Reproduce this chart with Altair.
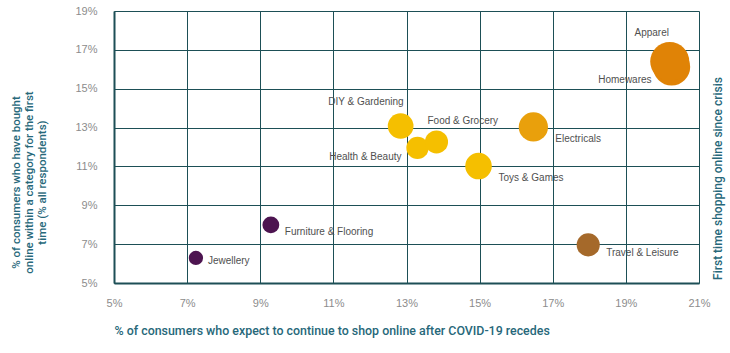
import altair as alt
import pandas as pd

categories = ["Jewellery", "Furniture & Flooring", "Travel & Leisure", "DIY & Gardening",
              "Health & Beauty", "Food & Grocery", "Toys & Games", "Electricals",
              "Homewares", "Apparel"]
expect_continue = [7.24, 9.29, 17.97, 12.84, 13.30, 13.82, 14.97, 16.47, 20.25, 20.20]
first_time = [6.29, 7.99, 6.96, 13.08, 11.95, 12.26, 11.02, 13.03, 16.12, 16.40]
bubble_size = [2.6, 3.6, 6.8, 8.4, 6.3, 6.8, 9.0, 10.9, 17.6, 19.4]
x_ticks = [5, 7, 9, 11, 13, 15, 17, 19, 21]
y_ticks = [5, 7, 9, 11, 13, 15, 17, 19]

colors = ["#4d1450", "#4d1450", "#a5692a", "#f5bf00", "#f5bf00", "#f5bf00",
          "#f5bf00", "#e9a00c", "#e08306", "#e08306"]

df = pd.DataFrame({"cat": categories, "x": expect_continue, "y": first_time,
                   "s": bubble_size})

TEAL = "#1d4f56"
TITLE = "#27687a"

xscale = alt.Scale(domain=[5, 21], nice=False, zero=False)
xenc = alt.X("x:Q", scale=xscale,
             axis=alt.Axis(values=x_ticks, labelExpr="datum.value + '%'", labelFlush=False,
                           title="% of consumers who expect to continue to shop online after COVID-19 recedes",
                           titleAnchor="start", titleAlign="left", titleX=0, titleY=47,
                           titleBaseline="middle", titleFont="Roboto", titleFontWeight=500,
                           titleFontSize=12.4, titleColor=TITLE,
                           ticks=False, labelPadding=14, domainWidth=2))
yscale = alt.Scale(domain=[5, 19], nice=False, zero=False)
yenc = alt.Y("y:Q", scale=yscale,
             axis=alt.Axis(values=y_ticks, labelExpr="datum.value + '%'", labelFlush=False,
                           title=["% of consumers who have bought",
                                  "online within a category for the first",
                                  "time (% all respondents)"],
                           titleAngle=-90, titleX=-104, titleY=171, titleAlign="center",
                           titleBaseline="top", titleFont="Roboto", titleFontWeight=500,
                           titleFontSize=11.5, titleColor=TITLE, titleLineHeight=13,
                           ticks=False, labelPadding=17, domainWidth=2))

base = alt.Chart(df)

points = base.mark_circle(opacity=1).encode(
    x=xenc, y=yenc,
    size=alt.Size("s:Q", scale=alt.Scale(domain=[0, 20], range=[0, 1571]), legend=None),
    color=alt.Color("cat:N", scale=alt.Scale(domain=categories, range=colors), legend=None),
    order=alt.Order("s:Q"),
)

right_axis = base.mark_point(opacity=0).encode(
    x=xenc,
    y=alt.Y("y:Q", scale=yscale,
            axis=alt.Axis(orient="right", labels=False, ticks=False, domain=False, grid=False,
                          title="First time shopping online since crisis",
                          titleAngle=-90, titleX=13, titleY=167, titleAlign="center",
                          titleBaseline="top", titleFont="Roboto", titleFontWeight=500,
                          titleFontSize=12, titleColor=TITLE)),
)

label_style = {
    "Apparel": (-18, -29, "center"),
    "Homewares": (-20, 13, "right"),
    "DIY & Gardening": (3, -24, "right"),
    "Food & Grocery": (-9, -21, "left"),
    "Health & Beauty": (-16, 9, "right"),
    "Electricals": (22, 12, "left"),
    "Toys & Games": (20, 12, "left"),
    "Furniture & Flooring": (14, 7, "left"),
    "Jewellery": (12, 3, "left"),
    "Travel & Leisure": (18, 8, "left"),
}

label_layers = []
for name, (dx, dy, al) in label_style.items():
    label_layers.append(
        base.transform_filter(alt.datum.cat == name).mark_text(
            dx=dx, dy=dy, align=al, baseline="middle", fontSize=10,
            font="Liberation Sans", color="#505050"
        ).encode(
            x=xenc,
            y=alt.Y("y:Q", scale=yscale, axis=None),
            text="cat:N",
        )
    )

chart = alt.layer(points, right_axis, *label_layers).resolve_axis(y="independent").properties(
    width=585, height=272,
    autosize=alt.AutoSizeParams(type="none"),
    padding={"left": 114, "top": 11, "right": 31, "bottom": 70},
    background="white",
).configure_axis(
    gridColor=TEAL, gridWidth=1, gridOpacity=1, domainColor=TEAL,
    labelFont="Liberation Sans", labelFontSize=11, labelColor="#8c8c8c",
).configure_view(stroke=None)

chart.save("out.html", embed_options={"renderer": "svg", "actions": False})
